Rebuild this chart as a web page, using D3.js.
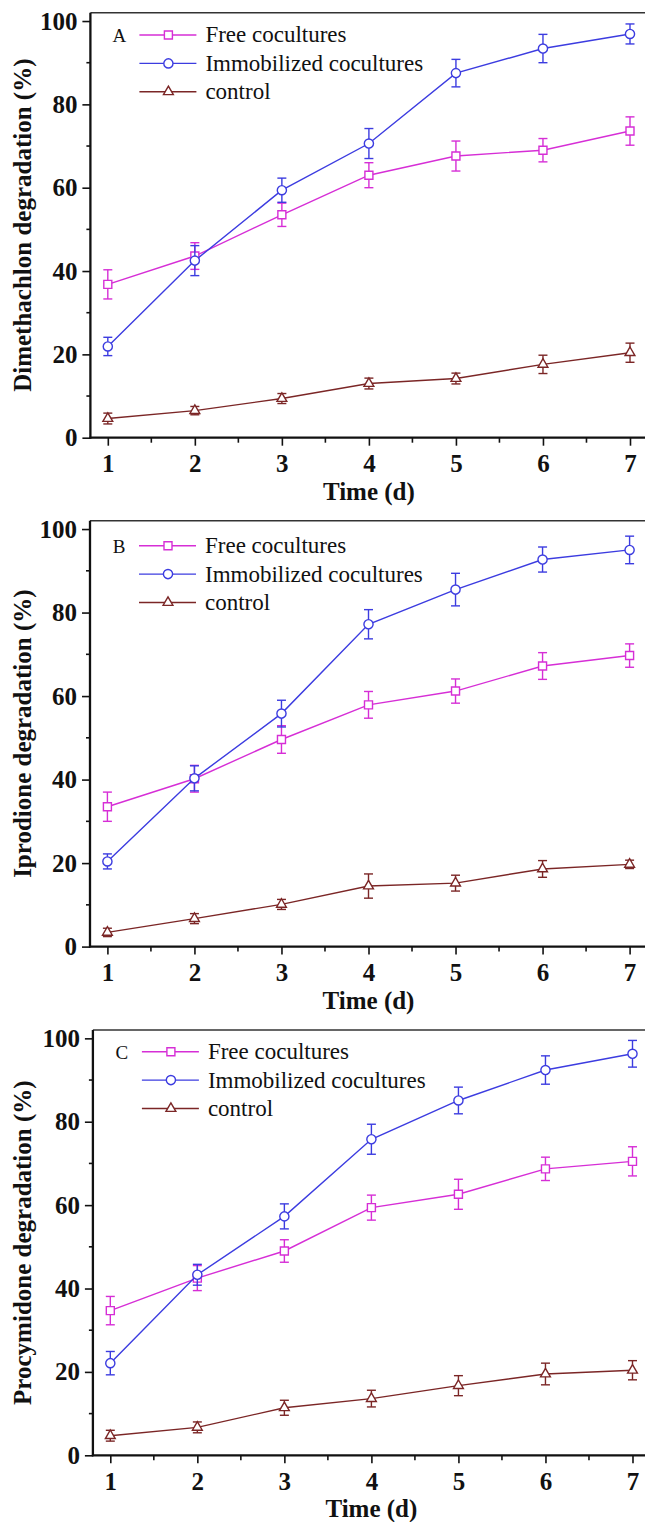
<!DOCTYPE html>
<html>
<head>
<meta charset="utf-8">
<script src="https://cdn.jsdelivr.net/npm/d3@7"></script>
<style>
  body { margin: 0; background: #fff; }
  svg { display: block; }
</style>
</head>
<body>
<svg id="chart" width="645" height="1522"></svg>
<script>
// data (degradation %, mean and error)
var days = [1, 2, 3, 4, 5, 6, 7];
var seriesNames = ["Free cocultures", "Immobilized cocultures", "control"];
var yTicks = [0, 20, 40, 60, 80, 100];

var dimFree = [36.8, 43.6, 53.5, 63.0, 67.6, 69.0, 73.6];
var dimFreeErr = [3.5, 3.2, 2.8, 3.0, 3.6, 2.8, 3.4];
var dimImmob = [21.9, 42.5, 59.4, 70.6, 87.5, 93.4, 96.9];
var dimImmobErr = [2.2, 3.6, 2.9, 3.6, 3.3, 3.4, 2.4];
var dimCtrl = [4.6, 6.5, 9.4, 13.0, 14.2, 17.6, 20.4];
var dimCtrlErr = [1.3, 1.0, 1.2, 1.3, 1.3, 2.2, 2.3];

var iprFree = [33.5, 40.2, 49.6, 57.9, 61.2, 67.2, 69.7];
var iprFreeErr = [3.5, 3.2, 3.3, 3.2, 2.9, 3.2, 2.8];
var iprImmob = [20.4, 40.3, 55.8, 77.2, 85.5, 92.7, 95.0];
var iprImmobErr = [1.8, 3.0, 3.2, 3.5, 3.9, 3.0, 3.3];
var iprCtrl = [3.4, 6.7, 10.1, 14.5, 15.2, 18.6, 19.7];
var iprCtrlErr = [1.0, 1.2, 1.2, 2.9, 1.9, 2.0, 1.0];

var proFree = [34.7, 42.5, 49.0, 59.4, 62.6, 68.7, 70.5];
var proFreeErr = [3.4, 3.0, 2.7, 3.0, 3.6, 2.8, 3.5];
var proImmob = [22.1, 43.3, 57.3, 75.8, 85.1, 92.4, 96.3];
var proImmobErr = [2.8, 2.5, 3.0, 3.6, 3.2, 3.4, 3.2];
var proCtrl = [4.7, 6.7, 11.4, 13.6, 16.7, 19.5, 20.4];
var proCtrlErr = [1.3, 1.3, 1.8, 2.0, 2.4, 2.6, 2.3];

var panels = [
  { letter: "A", title: "Dimethachlon degradation (%)", top: 12.7, bottom: 437.7, left: 90.4, legendY: 22.3,
    series: [[dimFree, dimFreeErr], [dimImmob, dimImmobErr], [dimCtrl, dimCtrlErr]] },
  { letter: "B", title: "Iprodione degradation (%)", top: 520.7, bottom: 946.6, left: 90.0, legendY: 25,
    series: [[iprFree, iprFreeErr], [iprImmob, iprImmobErr], [iprCtrl, iprCtrlErr]] },
  { letter: "C", title: "Procymidone degradation (%)", top: 1030, bottom: 1455.3, left: 92.9, legendY: 21.7,
    series: [[proFree, proFreeErr], [proImmob, proImmobErr], [proCtrl, proCtrlErr]] }
];

var colors = ["#d62ed6", "#3c3ce0", "#7b2626"];
var symbols = [d3.symbolSquare, d3.symbolCircle, d3.symbolTriangle];
var symbolSizes = [64, 66, 42];

var svg = d3.select("#chart");
svg.append("rect").attr("width", 645).attr("height", 1522).attr("fill", "#fff");

var serif = "'Liberation Serif', 'Times New Roman', serif";

panels.forEach(function(p) {
  var g = svg.append("g");

  var x = d3.scaleLinear().domain([0.8, 7.2]).range([p.left, p.left + 557]);
  var y = d3.scaleLinear().domain([0, 102]).range([p.bottom, p.top]);

  // top frame line
  g.append("line")
    .attr("x1", p.left).attr("x2", 660)
    .attr("y1", p.top).attr("y2", p.top)
    .attr("stroke", "#333").attr("stroke-width", 1.5);

  // y axis
  var yAxis = g.append("g")
    .attr("transform", "translate(" + p.left + ",0)")
    .call(d3.axisLeft(y).tickValues(yTicks).tickSize(8).tickPadding(5).tickFormat(d3.format("d")));
  yAxis.select(".domain").remove();
  yAxis.append("line")
    .attr("x1", 0).attr("x2", 0).attr("y1", p.bottom + 1).attr("y2", p.top)
    .attr("stroke", "#111").attr("stroke-width", 2.3);
  yAxis.selectAll(".tick line").attr("stroke", "#111").attr("stroke-width", 1.6);
  yAxis.selectAll(".tick text")
    .attr("fill", "#111")
    .style("font-family", serif).style("font-weight", "bold").style("font-size", "25px");
  yAxis.selectAll(".minor")
    .data([10, 30, 50, 70, 90]).enter().append("line")
    .attr("class", "minor")
    .attr("x1", -4).attr("x2", 0)
    .attr("y1", function(d) { return y(d); }).attr("y2", function(d) { return y(d); })
    .attr("stroke", "#111").attr("stroke-width", 1.6);

  // x axis
  var xAxis = g.append("g")
    .attr("transform", "translate(0," + p.bottom + ")")
    .call(d3.axisBottom(x).tickValues(days).tickSize(8).tickPadding(9).tickFormat(d3.format("d")));
  xAxis.select(".domain").remove();
  xAxis.append("line")
    .attr("x1", p.left - 1).attr("x2", 660).attr("y1", 0).attr("y2", 0)
    .attr("stroke", "#111").attr("stroke-width", 2.3);
  xAxis.selectAll(".tick line").attr("stroke", "#111").attr("stroke-width", 1.6);
  xAxis.selectAll(".tick text")
    .attr("fill", "#111")
    .style("font-family", serif).style("font-weight", "bold").style("font-size", "25px");
  xAxis.selectAll(".minor")
    .data([1.5, 2.5, 3.5, 4.5, 5.5, 6.5]).enter().append("line")
    .attr("class", "minor")
    .attr("x1", function(d) { return x(d); }).attr("x2", function(d) { return x(d); })
    .attr("y1", 0).attr("y2", 5)
    .attr("stroke", "#111").attr("stroke-width", 1.6);

  // axis titles
  g.append("text")
    .attr("x", x(4)).attr("y", p.bottom + 62)
    .attr("text-anchor", "middle")
    .style("font-family", serif).style("font-weight", "bold").style("font-size", "25px")
    .attr("fill", "#111")
    .text("Time (d)");

  g.append("text")
    .attr("transform", "translate(30.5," + ((p.top + p.bottom) / 2) + ") rotate(-90)")
    .attr("text-anchor", "middle")
    .style("font-family", serif).style("font-weight", "bold").style("font-size", "25px")
    .attr("fill", "#111")
    .text(p.title);

  // series
  var line = d3.line()
    .x(function(d, i) { return x(days[i]); })
    .y(function(d) { return y(d); });

  p.series.forEach(function(s, k) {
    var vals = s[0], errs = s[1];
    var sg = g.append("g");
    var eb = sg.selectAll(".err").data(vals).enter().append("g")
      .attr("stroke", colors[k]).attr("stroke-width", 1.4);
    eb.append("line")
      .attr("x1", function(d, i) { return x(days[i]); })
      .attr("x2", function(d, i) { return x(days[i]); })
      .attr("y1", function(d, i) { return y(d + errs[i]); })
      .attr("y2", function(d, i) { return y(d - errs[i]); });
    eb.append("line")
      .attr("x1", function(d, i) { return x(days[i]) - 4.5; })
      .attr("x2", function(d, i) { return x(days[i]) + 4.5; })
      .attr("y1", function(d, i) { return y(d + errs[i]); })
      .attr("y2", function(d, i) { return y(d + errs[i]); });
    eb.append("line")
      .attr("x1", function(d, i) { return x(days[i]) - 4.5; })
      .attr("x2", function(d, i) { return x(days[i]) + 4.5; })
      .attr("y1", function(d, i) { return y(d - errs[i]); })
      .attr("y2", function(d, i) { return y(d - errs[i]); });

    sg.append("path")
      .datum(vals)
      .attr("fill", "none")
      .attr("stroke", colors[k])
      .attr("stroke-width", 1.4)
      .attr("d", line);

    sg.selectAll(".pt").data(vals).enter().append("path")
      .attr("transform", function(d, i) { return "translate(" + x(days[i]) + "," + y(d) + ")"; })
      .attr("d", d3.symbol().type(symbols[k]).size(symbolSizes[k]))
      .attr("fill", "#fff")
      .attr("stroke", colors[k])
      .attr("stroke-width", 1.4);
  });

  // legend
  var lg = g.append("g").attr("transform", "translate(" + p.left + "," + p.top + ")");
  lg.append("text")
    .attr("x", 29).attr("y", p.legendY + 7)
    .attr("text-anchor", "middle")
    .style("font-family", serif).style("font-size", "19px")
    .attr("fill", "#111")
    .text(p.letter);
  seriesNames.forEach(function(name, k) {
    var ry = p.legendY + k * 28.4;
    lg.append("line")
      .attr("x1", 49).attr("x2", 106).attr("y1", ry).attr("y2", ry)
      .attr("stroke", colors[k]).attr("stroke-width", 1.4);
    lg.append("path")
      .attr("transform", "translate(" + 78 + "," + ry + ")")
      .attr("d", d3.symbol().type(symbols[k]).size(symbolSizes[k]))
      .attr("fill", "#fff")
      .attr("stroke", colors[k])
      .attr("stroke-width", 1.4);
    lg.append("text")
      .attr("x", 115).attr("y", ry + 7.5)
      .style("font-family", serif).style("font-size", "23px")
      .attr("fill", "#111")
      .text(name);
  });
});
</script>
</body>
</html>
